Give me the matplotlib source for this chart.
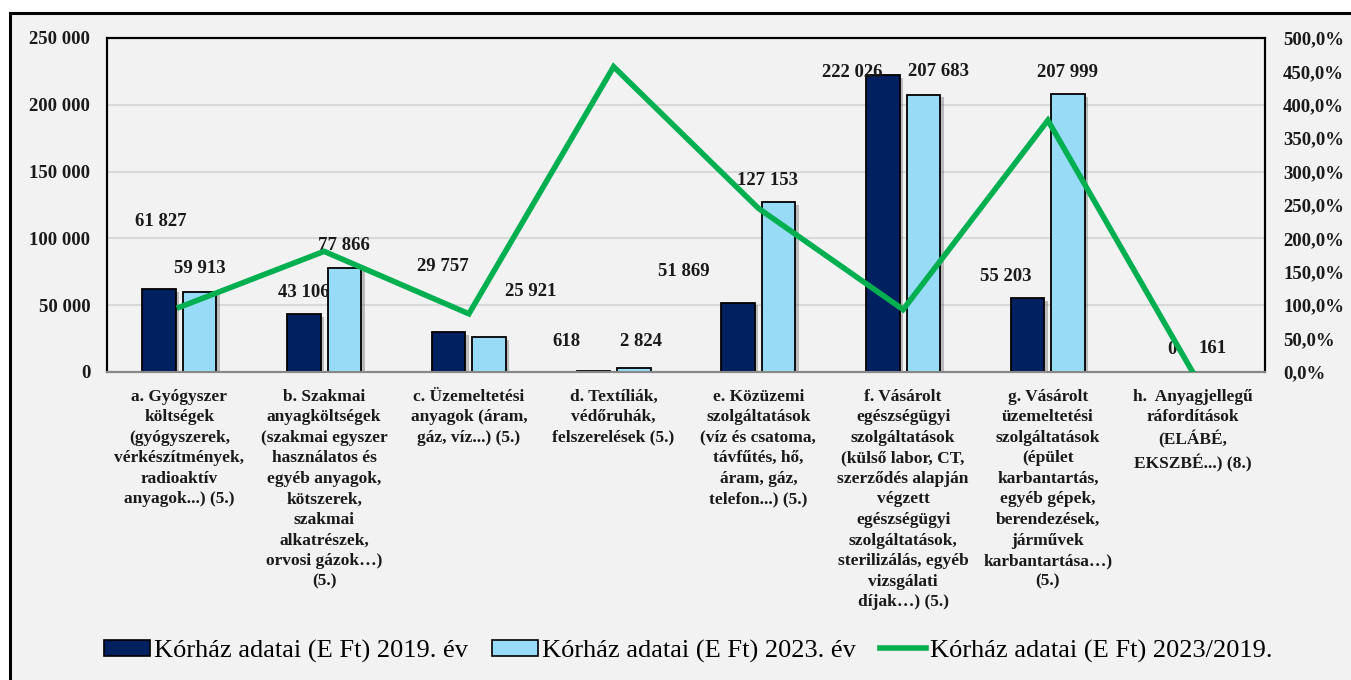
import matplotlib
matplotlib.use("Agg")
import matplotlib.pyplot as plt
import matplotlib.patheffects as pe
from matplotlib.patches import Patch, Rectangle
from matplotlib.lines import Line2D
from matplotlib.ticker import FuncFormatter, MultipleLocator
import numpy as np

plt.rcParams['font.family'] = ['Liberation Serif', 'DejaVu Serif']

categories = [
    "a. Gyógyszer\nköltségek\n(gyógyszerek,\nvérkészítmények,\nradioaktív\nanyagok...) (5.)",
    "b. Szakmai\nanyagköltségek\n(szakmai egyszer\nhasználatos és\negyéb anyagok,\nkötszerek,\nszakmai\nalkatrészek,\norvosi gázok…)\n(5.)",
    "c. Üzemeltetési\nanyagok (áram,\ngáz, víz...) (5.)",
    "d. Textíliák,\nvédőruhák,\nfelszerelések (5.)",
    "e. Közüzemi\nszolgáltatások\n(víz és csatoma,\ntávfűtés, hő,\náram, gáz,\ntelefon...) (5.)",
    "f. Vásárolt\negészségügyi\nszolgáltatások\n(külső labor, CT,\nszerződés alapján\nvégzett\negészségügyi\nszolgáltatások,\nsterilizálás, egyéb\nvizsgálati\ndíjak…) (5.)",
    "g. Vásárolt\nüzemeltetési\nszolgáltatások\n(épület\nkarbantartás,\negyéb gépek,\nberendezések,\njárművek\nkarbantartása…)\n(5.)",
    "h.  Anyagjellegű\nráfordítások\n(ELÁBÉ,\nEKSZBÉ...) (8.)",
]
values_2019 = [61827, 43106, 29757, 618, 51869, 222026, 55203, 0]
values_2023 = [59913, 77866, 25921, 2824, 127153, 207683, 207999, 161]
ratio_pct = [96.9, 180.6, 87.1, 457.0, 245.1, 93.5, 376.8, 0.0]

series_names = ["Kórház adatai (E Ft) 2019. év",
                "Kórház adatai (E Ft) 2023. év",
                "Kórház adatai (E Ft) 2023/2019."]

# label offsets (pixels) relative to bar top centre (style only)
off_2019 = [(2, -68), (0, -22), (-6, -66), (-27, -30), (-54, -31), (-31, -3), (-22, -22), (0, -23)]
off_2023 = [(0, -23), (0, -22), (42, -46), (7, -27), (-11, -22), (15, -23), (-1, -22), (0, -23)]

C_DARK = "#002060"
C_LIGHT = "#97dbf7"
C_GREEN = "#00b050"
BG = "#f2f2f2"

W, H = 1351, 680
fig = plt.figure(figsize=(W / 100, H / 100), dpi=100)
fig.patch.set_facecolor("white")
fig.add_artist(Rectangle((10 / W, -0.05), 1.2, (H - 13) / H + 0.05, transform=fig.transFigure,
                         facecolor=BG, edgecolor="black", linewidth=2.2, zorder=0))

ax = fig.add_axes([107 / W, (H - 372) / H, (1265 - 107) / W, (372 - 38) / H])
ax.set_facecolor(BG)
ax2 = ax.twinx()

x = np.arange(len(categories))
bw = 0.23
shadow = [pe.SimplePatchShadow(offset=(2.5, -2), shadow_rgbFace="#555555", alpha=0.35), pe.Normal()]
b1 = ax.bar(x - 0.14, values_2019, bw, color=C_DARK, edgecolor="black", linewidth=1.3, zorder=3)
b2 = ax.bar(x + 0.14, values_2023, bw, color=C_LIGHT, edgecolor="black", linewidth=1.3, zorder=3)
for r in list(b1) + list(b2):
    r.set_path_effects(shadow)

def fmt_th(v):
    return f"{int(v):,}".replace(",", " ")

for i in range(len(categories)):
    for vals, offs, dx in ((values_2019, off_2019, -0.14), (values_2023, off_2023, 0.14)):
        ox, oy = offs[i]
        ax.annotate(fmt_th(vals[i]), (x[i] + dx, vals[i]), xytext=(ox * 0.72, -oy * 0.72),
                    textcoords="offset points", ha="center", va="center",
                    fontsize=13.5, fontweight="bold", color="#1a1a1a", zorder=6)

ax.set_xlim(-0.5, len(categories) - 0.5)
ax.set_ylim(0, 250000)
ax.yaxis.set_major_locator(MultipleLocator(50000))
ax.yaxis.set_major_formatter(FuncFormatter(lambda v, p: fmt_th(v)))
ax.grid(axis="y", color="#d9d9d9", linewidth=1.5, zorder=0)
ax.set_axisbelow(True)
ax.set_xticks(x)
ax.set_xticklabels(categories, fontsize=12.5, fontweight="bold", linespacing=1.38,
                   color="#1a1a1a", va="top")
ax.tick_params(axis="x", length=0, pad=12)
ax.tick_params(axis="y", length=0, pad=12, labelsize=13.5, labelcolor="#1a1a1a")
for t in ax.get_yticklabels():
    t.set_fontweight("bold")

ax2.plot(x, ratio_pct, color=C_GREEN, linewidth=4, zorder=5, solid_joinstyle="miter")
ax2.set_ylim(0, 500)
ax2.yaxis.set_major_locator(MultipleLocator(50))
ax2.yaxis.set_major_formatter(FuncFormatter(lambda v, p: f"{v:.1f}%".replace(".", ",")))
ax2.tick_params(axis="y", length=0, pad=13, labelsize=13.5, labelcolor="#1a1a1a")
for t in ax2.get_yticklabels():
    t.set_fontweight("bold")

for a in (ax, ax2):
    for s in ("top", "left", "right"):
        a.spines[s].set_color("black")
        a.spines[s].set_linewidth(1.5)
    a.spines["bottom"].set_color("#888888")
    a.spines["bottom"].set_linewidth(1.5)

handles = [Patch(facecolor=C_DARK, edgecolor="black", linewidth=1.2),
           Patch(facecolor=C_LIGHT, edgecolor="black", linewidth=1.2),
           Line2D([0], [0], color=C_GREEN, linewidth=4)]
fig.legend(handles, series_names, loc="center", bbox_to_anchor=(688 / W, (H - 651) / H),
           ncol=3, frameon=False, fontsize=19, handlelength=1.75, handleheight=0.55,
           handletextpad=0.15, columnspacing=0.9)

fig.savefig("out.png", dpi=100, facecolor="white")
